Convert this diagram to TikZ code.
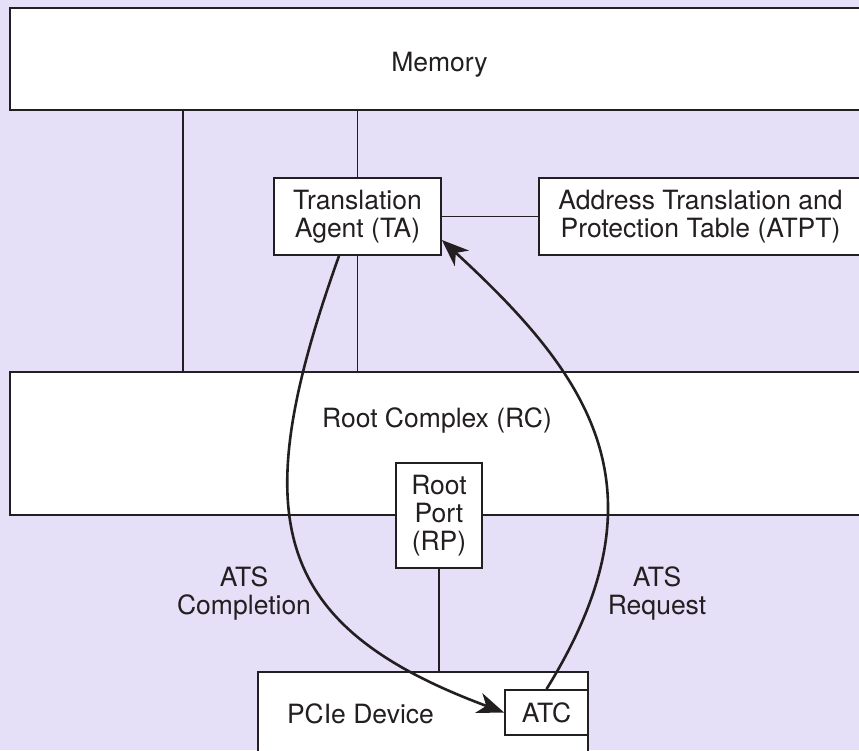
\documentclass[tikz,border=0pt]{standalone}
\usepackage{fontspec}
\setmainfont{TeX Gyre Heros}
\usetikzlibrary{arrows.meta}
\definecolor{lavbg}{RGB}{229,223,247}
\definecolor{inkgray}{RGB}{35,31,32}

\begin{document}
\begin{tikzpicture}[x=1pt,y=-1pt]
		\tikzstyle{mybox}=[draw=inkgray,fill=white,line width=1.8pt,inner sep=0pt,text=inkgray,align=center,font=\fontsize{26.5}{28}\selectfont]
		\tikzstyle{mylabel}=[text=inkgray,align=center,inner sep=0pt,font=\fontsize{26.5}{28}\selectfont]
		\tikzstyle{myline}=[draw=inkgray,line width=1.8pt]
		\tikzstyle{myarrow}=[draw=inkgray,line width=2.6pt,-{Stealth[length=27pt,width=21pt,inset=8pt]}]

		\useasboundingbox (0,0) rectangle (859,750);
		\fill[lavbg] (0,0) rectangle (859,750);
%		\draw[help lines,step=50] (0,0) grid (859,750);

		\node[mybox,minimum width=856pt,minimum height=102pt] (mem) at (438,59) {};
		\node[mylabel,anchor=base] (memlbl) at (439.5,71) {Memory};
		\node[mybox,minimum width=167pt,minimum height=77pt] (ta) at (357.5,216.5) {Translation\\Agent (TA)};
		\node[mybox,minimum width=323pt,minimum height=77pt] (atpt) at (700.5,216.5) {Address Translation and\\Protection Table (ATPT)};
		\node[mybox,minimum width=856pt,minimum height=143pt] (rc) at (438,443.5) {};
		\node[mylabel,anchor=base] (rclbl) at (437,427) {Root Complex (RC)};
		\node[mybox,minimum width=86pt,minimum height=105pt] (rp) at (439,515.5) {Root\\Port\\(RP)};
		\node[mybox,minimum width=330pt,minimum height=120pt] (pcie) at (423,732) {};
		\node[mylabel,anchor=base] (pcielbl) at (360.5,723) {PCIe Device};
		\node[mybox,minimum width=83pt,minimum height=45pt] (atc) at (546.5,712.5) {ATC};

		\node[mylabel] (complbl) at (244,593) {ATS\\Completion};
		\node[mylabel] (reqlbl) at (657,593) {ATS\\Request};

		\draw[myline] (183,0 |- mem.south) -- (183,0 |- rc.north);
		\draw[myline] (ta.north) -- (ta.north |- mem.south);
		\draw[myline] (ta.south) -- (ta.south |- rc.north);
		\draw[myline] (ta.east) -- (atpt.west);
		\draw[myline] (rp.south) -- (rp.south |- pcie.north);

		\draw[myarrow] ([xshift=-18.5pt]ta.south) .. controls (246.6,514.6) and (267.5,624.5) .. (atc.west);
		\draw[myarrow] (atc.north) .. controls (669.5,490.5) and (592,378) .. ([yshift=-23.5pt]ta.east);
	\end{tikzpicture}
\end{document}
